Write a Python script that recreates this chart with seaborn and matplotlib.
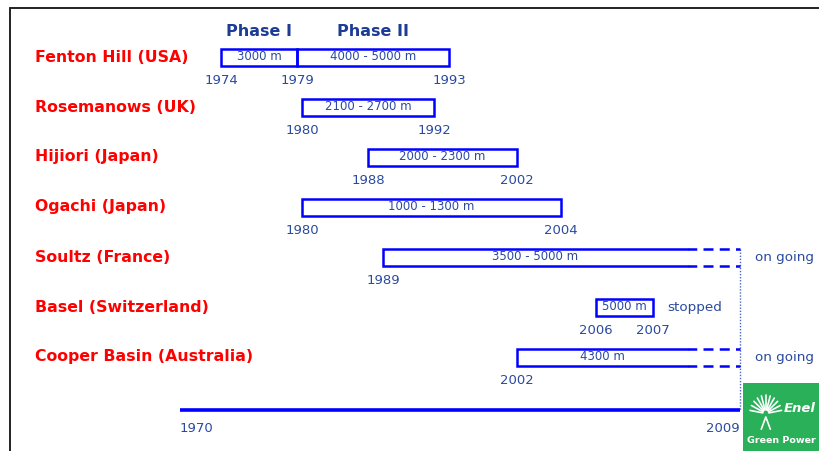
import numpy as np
import seaborn as sns
import matplotlib.pyplot as plt
import matplotlib.transforms as mtransforms
from matplotlib.lines import Line2D
from matplotlib.patches import Rectangle

# ---- data -------------------------------------------------------------
sites = ["Fenton Hill (USA)", "Rosemanows (UK)", "Hijiori (Japan)",
         "Ogachi (Japan)", "Soultz (France)", "Basel (Switzerland)",
         "Cooper Basin (Australia)"]
status = ["", "", "", "", "on going", "stopped", "on going"]

# one entry per drilling phase
seg_site = [0, 0, 1, 2, 3, 4, 5, 6]
seg_start = [1974, 1979, 1980, 1988, 1980, 1989, 2006, 2002]
seg_end = [1979, 1993, 1992, 2002, 2004, 2009, 2007, 2009]
seg_depth = ["3000 m", "4000 - 5000 m", "2100 - 2700 m", "2000 - 2300 m",
             "1000 - 1300 m", "3500 - 5000 m", "5000 m", "4300 m"]
phases = ["Phase I", "Phase II"]
timeline = [1970, 2009]

# the original timeline is schematic, not to scale: warp years accordingly
warp_years = [1970, 1974, 1979, 1980, 1988, 1989, 1992, 1993,
              2002, 2004, 2006, 2007, 2009]
warp_pos = [0, 41, 117, 122, 188, 203, 254, 269, 337, 381, 416, 473, 560]


def fwd(x):
    return np.interp(x, warp_years, warp_pos)


def inv(x):
    return np.interp(x, warp_pos, warp_years)


BLUE = "#0000ff"
TXT = "#2a4aa0"
PHASE = "#1c3c96"
RED = "#ff0000"
GREEN = "#2bb05a"
ONGOING_FROM = 2007.8

sns.set_theme(style="white")
plt.rcParams["font.family"] = ["DejaVu Sans"]

fig = plt.figure(figsize=(8.19, 4.51), dpi=100)
ax = fig.add_axes([180 / 819, 0, 560 / 819, 1])
ax.set_xscale("function", functions=(fwd, inv))
ax.set_xlim(timeline[0], timeline[1])
ax.set_ylim(7.88, -1.14)
ax.axis("off")

h = 0.34
for i, s, e, d in zip(seg_site, seg_start, seg_end, seg_depth):
    ongoing = status[i] == "on going"
    solid_end = ONGOING_FROM if ongoing else e
    if ongoing:
        ax.plot([solid_end, s, s, solid_end], [i - h / 2, i - h / 2, i + h / 2, i + h / 2],
                color=BLUE, lw=1.8, solid_joinstyle="miter", clip_on=False)
        for yy in (i - h / 2, i + h / 2):
            ax.plot([solid_end, e], [yy, yy], color=BLUE, lw=1.8,
                    ls=(0.5, (4, 2.5)), clip_on=False)
    else:
        ax.barh(y=i, width=e - s, left=s, height=h, fill=False,
                edgecolor=BLUE, linewidth=1.8)
    xc = inv((fwd(s) + fwd(solid_end)) / 2)
    ax.text(xc, i, d, ha="center", va="center", fontsize=8.5, color=TXT)

# year labels below each box
for i in range(len(sites)):
    years = set()
    for k, s, e in zip(seg_site, seg_start, seg_end):
        if k == i:
            years.add(s)
            if status[i] != "on going":
                years.add(e)
    for y in sorted(years):
        ax.text(y, i + 0.46, str(y), ha="center", va="center", fontsize=9.5, color=TXT)

# phase headers above Fenton Hill
for ph, s, e in zip(phases, seg_start[:2], seg_end[:2]):
    ax.text(inv((fwd(s) + fwd(e)) / 2), -0.5, ph, ha="center", va="center",
            fontsize=11.5, fontweight="bold", color=PHASE)

# site names
trans = mtransforms.blended_transform_factory(fig.transFigure, ax.transData)
for i, name in enumerate(sites):
    ax.text(35 / 819, i, name, transform=trans, ha="left", va="center",
            fontsize=11.3, fontweight="bold", color=RED)

# status notes
for i, st in enumerate(status):
    if st:
        end = max(e for k, e in zip(seg_site, seg_end) if k == i)
        ax.annotate(st, xy=(end, i), xytext=(10.5, 0), textcoords="offset points",
                    ha="left", va="center", fontsize=9.7, color=TXT)

# timeline axis
axis_y = 7.06
sns.lineplot(x=timeline, y=[axis_y, axis_y], color=BLUE, lw=2.6, ax=ax)
ax.text(timeline[0], axis_y + 0.36, str(timeline[0]), ha="left", va="center",
        fontsize=9.5, color=TXT)
ax.text(timeline[1], axis_y + 0.36, str(timeline[1]), ha="right", va="center",
        fontsize=9.5, color=TXT)
first_ongoing = status.index("on going")
ax.plot([timeline[1], timeline[1]], [first_ongoing - h / 2, axis_y],
        color="#4a68c0", lw=1.0, ls=(0, (1, 1.2)), clip_on=False, zorder=1)

# slide frame
fig.add_artist(Line2D([10 / 819, 1], [1 - 8 / 451] * 2, color="#222222", lw=1.4))
fig.add_artist(Line2D([10 / 819] * 2, [0, 1 - 8 / 451], color="#222222", lw=1.4))

# logo
lax = fig.add_axes([743 / 819, 0, 76 / 819, 68 / 451])
lax.set_xlim(0, 1)
lax.set_ylim(0, 1)
lax.axis("off")
lax.add_patch(Rectangle((0, 0), 1, 1, color=GREEN))
cx, cy = 0.3, 0.55
for a in np.linspace(10, 170, 11):
    r = np.radians(a)
    lax.plot([cx + 0.04 * np.cos(r), cx + 0.21 * np.cos(r)],
             [cy + 0.06 * np.sin(r), cy + 0.27 * np.sin(r)], color="white", lw=1.2)
lax.plot([cx - 0.06, cx, cx + 0.06], [0.32, 0.5, 0.32], color="white", lw=1.2)
lax.text(0.95, 0.63, "Enel", ha="right", va="center", fontsize=9.5,
         fontweight="bold", fontstyle="italic", color="white")
lax.text(0.5, 0.15, "Green Power", ha="center", va="center", fontsize=6.8,
         fontweight="bold", color="white")

fig.savefig("out.png", dpi=100)
